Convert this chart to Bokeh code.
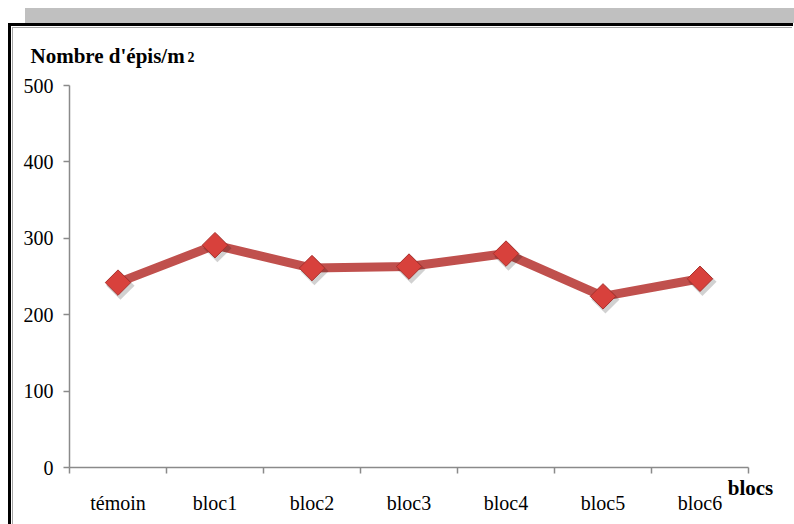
from bokeh.plotting import figure
from bokeh.models import Range1d, FixedTicker, Title, ColumnDataSource
from bokeh.transform import dodge
from bokeh.embed import file_html
from bokeh.resources import INLINE
import math

categories = ["témoin", "bloc1", "bloc2", "bloc3", "bloc4", "bloc5", "bloc6"]
values = [242, 291, 261, 263, 280, 224, 247]
y_ticks = [0, 100, 200, 300, 400, 500]

W, H = 794, 524
# frame geometry (pixels)
L, T = 69, 85            # y axis position, top of the 500 tick
AX_RIGHT = 748           # end of the x axis line
FR_RIGHT = 750           # frame right (centre of the "blocs" label)
BOTTOM = 467             # x axis position
n = len(categories)
x_end = n * (FR_RIGHT - L) / (AX_RIGHT - L)

xs = [i + 0.5 for i in range(n)]
src = ColumnDataSource(data=dict(x=xs, y=values))

p = figure(width=W, height=H, output_backend="svg", toolbar_location=None,
           x_range=Range1d(0, x_end), y_range=Range1d(0, 500),
           min_border_left=L, min_border_right=W - FR_RIGHT,
           min_border_top=T, min_border_bottom=H - BOTTOM,
           title="Nombre d'épis/m")
p.outline_line_color = None
p.xgrid.grid_line_color = None
p.ygrid.grid_line_color = None
p.background_fill_color = "white"
p.border_fill_color = "white"
p.border_fill_alpha = 0

# page decorations behind the (transparent) border area
p.styles = {
    "background": (
        "linear-gradient(#000,#000) 8px 23px / 785px 3px no-repeat, "
        "linear-gradient(#000,#000) 8px 23px / 3px 501px no-repeat, "
        "linear-gradient(#a6a6a6,#a6a6a6) 12px 27px / 780px 1px no-repeat, "
        "linear-gradient(#a6a6a6,#a6a6a6) 12px 27px / 1px 497px no-repeat, "
        "linear-gradient(#c0c0c0,#c0c0c0) 25px 8px / 769px 15px no-repeat, "
        "#ffffff"
    )
}

FONT = "Liberation Serif"
AX = "#8a8a8a"

p.title.text_font = FONT
p.title.text_font_size = "21px"
p.title.text_font_style = "bold"
p.title.text_color = "black"
p.title.align = "left"
p.title.offset = 30 - L
p.title.standoff = -83

sub = Title(text="2", text_font=FONT, text_font_size="14px", text_font_style="bold",
            text_color="black", align="left", offset=187 - L, standoff=47)
p.add_layout(sub, "above")

xa = p.xaxis[0]
xa.bounds = (0, n)
xa.ticker = FixedTicker(ticks=xs, minor_ticks=list(range(n + 1)))
xa.major_label_overrides = {x: c for x, c in zip(xs, categories)}
xa.major_tick_line_color = None
xa.major_tick_out = 0
xa.major_tick_in = 0
xa.minor_tick_line_color = AX
xa.minor_tick_out = 6
xa.minor_tick_in = 0
xa.axis_line_color = AX
xa.axis_line_width = 1.5
xa.minor_tick_line_width = 1.5
xa.major_label_text_font = FONT
xa.major_label_text_font_size = "20px"
xa.major_label_text_color = "black"
xa.major_label_standoff = 18
xa.axis_label = "blocs"
xa.axis_label_text_font = FONT
xa.axis_label_text_font_size = "21px"
xa.axis_label_text_font_style = "bold"
xa.axis_label_text_color = "black"
xa.axis_label_standoff = -41
try:
    xa.axis_label_align = "end"
except Exception:
    pass

ya = p.yaxis[0]
ya.bounds = (0, 500)
ya.ticker = FixedTicker(ticks=y_ticks, minor_ticks=[])
ya.major_tick_out = 6
ya.major_tick_in = 0
ya.major_tick_line_color = AX
ya.major_tick_line_width = 1.5
ya.axis_line_color = AX
ya.axis_line_width = 1.5
ya.major_label_text_font = FONT
ya.major_label_text_font_size = "20px"
ya.major_label_text_color = "black"
ya.major_label_standoff = 10

p.line("x", "y", source=src, line_color="#c0504d", line_width=9, line_join="round")
# soft marker shadows
p.scatter(x=dodge("x", 0.025, range=p.x_range), y=dodge("y", -4, range=p.y_range), source=src,
          marker="square", angle=math.pi / 4, size=20,
          fill_color="black", fill_alpha=0.18, line_color=None)
p.scatter("x", "y", source=src, marker="square", angle=math.pi / 4, size=18,
          fill_color="#d8413c", line_color="#a8302c", line_width=1)

open("out.html", "w").write(file_html(p, INLINE))
